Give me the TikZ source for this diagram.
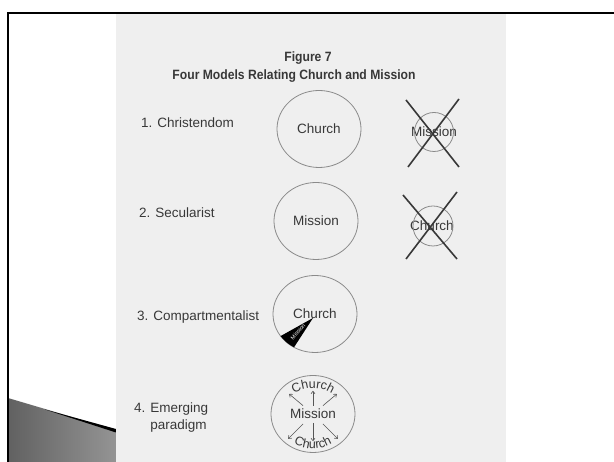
\documentclass[tikz,border=0pt]{standalone}
\usepackage{fontspec}
\setmainfont{Liberation Sans}
\usetikzlibrary{shapes.geometric,calc,decorations.text,arrows.meta}
\definecolor{scanbg}{HTML}{EFEFEF}
\definecolor{ink}{HTML}{383838}
\definecolor{penline}{HTML}{8A8A8A}
\tikzset{
  headline/.style={font=\bfseries\fontsize{13.5}{15}\selectfont,text=ink,inner sep=0pt,xscale=0.9},
  modellabel/.style={font=\fontsize{13.5}{17}\selectfont,text=ink,anchor=west,inner sep=0pt,align=left},
  ring/.style={ellipse,draw=penline,line width=0.8pt,minimum width=84pt,minimum height=77pt,inner sep=0pt,
    font=\fontsize{13.5}{15}\selectfont,text=ink},
  smallring/.style={draw=penline,line width=0.8pt},
  cross/.style={draw=ink,line width=1.6pt},
  spoke/.style={draw=ink!85,line width=0.6pt,-{To[length=3pt,width=4.5pt]}}
}
\newcommand\arcfont{\fontsize{12.5}{12.5}\selectfont\color{ink}}

\begin{document}
\begin{tikzpicture}[x=1pt,y=1pt]
  \useasboundingbox (0,0) rectangle (614,462);
  \clip (0,0) rectangle (614,462);
  % slide decoration and scanned page
  \shade[left color=black!62,right color=black!42] (8,0) -- (8,64) -- (116,32) -- (116,0) -- cycle;
  \fill (45,52.5) -- (116,33) -- (116,29.5) -- cycle;
  \fill[scanbg] (116,0) rectangle (506,448);
  \draw[line width=2.2pt] (8,-5) -- (8,449) -- (630,449);

  \node[headline] (fig) at (308,404) {Figure 7};
  \node[headline] (title) at (294,386) {Four Models Relating Church and Mission};

  \node[modellabel] (lab1) at (141,339) {1. Christendom};
  \node[modellabel] (lab2) at (139,249) {2. Secularist};
  \node[modellabel] (lab3) at (137,145) {3. Compartmentalist};
  \node[modellabel] (lab4) at (134,44) {4. Emerging\\\phantom{4. }paradigm};

  % 1 and 2
  \node[ring] (c1) at (319,333) {Church};
  \node[ring] (c2) at (316,241) {Mission};
  \node[font=\fontsize{13.5}{15}\selectfont,text=ink,inner sep=0pt] (x1) at (434,330) {Mission};
  \draw[smallring] (x1.center) circle [radius=19.5];
  \draw[cross] (406,362) -- (459,295);
  \draw[cross] (408,295) -- (459,363);
  \node[font=\fontsize{13.5}{15}\selectfont,text=ink,inner sep=0pt] (x2) at (432,236) {Church};
  \draw[smallring] (433,236) circle [radius=20];
  \draw[cross] (403,267) -- (457,203);
  \draw[cross] (457,270) -- (406,203);

  % 3
  \node[ring] (c3) at (315,148) {Church};
  \fill (313,144) -- ($(c3.center)+(215:42 and 38.5)$)
    arc [start angle=215,end angle=240,x radius=42,y radius=38.5] -- cycle;
  \node[font=\fontsize{5.5}{6}\selectfont,text=white,rotate=48,inner sep=0pt] (m3) at (298,130) {Mission};

  % 4
  \node[ring] (c4) at (313,48) {Mission};
  \path[decorate,decoration={text along path,text align=center,text={|\arcfont|Church}}]
    ($(c4.center)+(150:31 and 26)$) arc [start angle=150,end angle=30,x radius=31,y radius=26];
  \path[decorate,decoration={text along path,text align=center,text={|\arcfont|Church}}]
    ($(c4.center)+(212:36 and 35)$) arc [start angle=212,end angle=328,x radius=36,y radius=35];
  \foreach \a in {40,140}
    \draw[spoke] (c4.center) ++(\a:13) -- ++(\a:18);
  \foreach \a in {225,315}
    \draw[spoke] (c4.center) ++(\a:14) -- ++(\a:21);
  \draw[spoke] (c4.center) ++(0,8) -- ++(0,15);
  \draw[spoke] (c4.center) ++(0,-9) -- ++(0,-18);
\end{tikzpicture}
\end{document}
